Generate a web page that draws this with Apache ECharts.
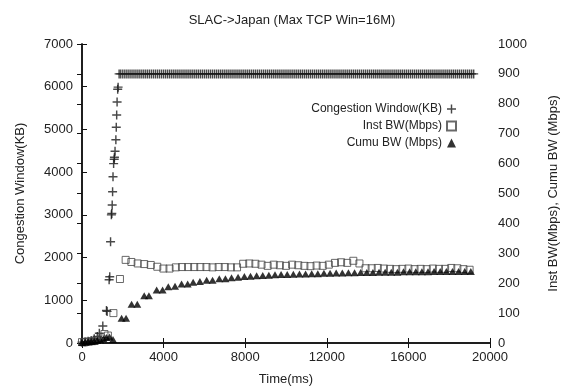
<!DOCTYPE html>
<html>
<head>
<meta charset="utf-8">
<script src="https://cdn.jsdelivr.net/npm/echarts@6/dist/echarts.min.js"></script>
<style>
  html, body { margin: 0; padding: 0; background: #fff; }
  .chart { width: 570px; height: 392px; }
</style>
</head>
<body>
<div class="chart"></div>
<script>
// time(ms), congestion window (KB)
var cwndData = [
    [0, 20], [150, 30], [300, 40], [450, 60], [600, 100], [750, 150], [850, 230], [1020, 400],
    [1200, 760], [1230, 740], [1330, 1480], [1360, 1550], [1400, 2370], [1440, 3000], [1460, 3030],
    [1480, 3230], [1500, 3540], [1520, 3890], [1550, 4200], [1580, 4300], [1590, 4350], [1620, 4490],
    [1660, 4760], [1680, 5050], [1700, 5340], [1720, 5640], [1750, 5940], [1770, 5990], [1820, 6300],
    [1900, 6300], [2000, 6300], [2100, 6300], [2200, 6300], [2300, 6300], [2400, 6300], [2500, 6300], [2600, 6300], [2700, 6300], [2800, 6300],
    [2900, 6300], [3000, 6300], [3100, 6300], [3200, 6300], [3300, 6300], [3400, 6300], [3500, 6300], [3600, 6300], [3700, 6300], [3800, 6300],
    [3900, 6300], [4000, 6300], [4100, 6300], [4200, 6300], [4300, 6300], [4400, 6300], [4500, 6300], [4600, 6300], [4700, 6300], [4800, 6300],
    [4900, 6300], [5000, 6300], [5100, 6300], [5200, 6300], [5300, 6300], [5400, 6300], [5500, 6300], [5600, 6300], [5700, 6300], [5800, 6300],
    [5900, 6300], [6000, 6300], [6100, 6300], [6200, 6300], [6300, 6300], [6400, 6300], [6500, 6300], [6600, 6300], [6700, 6300], [6800, 6300],
    [6900, 6300], [7000, 6300], [7100, 6300], [7200, 6300], [7300, 6300], [7400, 6300], [7500, 6300], [7600, 6300], [7700, 6300], [7800, 6300],
    [7900, 6300], [8000, 6300], [8100, 6300], [8200, 6300], [8300, 6300], [8400, 6300], [8500, 6300], [8600, 6300], [8700, 6300], [8800, 6300],
    [8900, 6300], [9000, 6300], [9100, 6300], [9200, 6300], [9300, 6300], [9400, 6300], [9500, 6300], [9600, 6300], [9700, 6300], [9800, 6300],
    [9900, 6300], [10000, 6300], [10100, 6300], [10200, 6300], [10300, 6300], [10400, 6300], [10500, 6300], [10600, 6300], [10700, 6300], [10800, 6300],
    [10900, 6300], [11000, 6300], [11100, 6300], [11200, 6300], [11300, 6300], [11400, 6300], [11500, 6300], [11600, 6300], [11700, 6300], [11800, 6300],
    [11900, 6300], [12000, 6300], [12100, 6300], [12200, 6300], [12300, 6300], [12400, 6300], [12500, 6300], [12600, 6300], [12700, 6300], [12800, 6300],
    [12900, 6300], [13000, 6300], [13100, 6300], [13200, 6300], [13300, 6300], [13400, 6300], [13500, 6300], [13600, 6300], [13700, 6300], [13800, 6300],
    [13900, 6300], [14000, 6300], [14100, 6300], [14200, 6300], [14300, 6300], [14400, 6300], [14500, 6300], [14600, 6300], [14700, 6300], [14800, 6300],
    [14900, 6300], [15000, 6300], [15100, 6300], [15200, 6300], [15300, 6300], [15400, 6300], [15500, 6300], [15600, 6300], [15700, 6300], [15800, 6300],
    [15900, 6300], [16000, 6300], [16100, 6300], [16200, 6300], [16300, 6300], [16400, 6300], [16500, 6300], [16600, 6300], [16700, 6300], [16800, 6300],
    [16900, 6300], [17000, 6300], [17100, 6300], [17200, 6300], [17300, 6300], [17400, 6300], [17500, 6300], [17600, 6300], [17700, 6300], [17800, 6300],
    [17900, 6300], [18000, 6300], [18100, 6300], [18200, 6300], [18300, 6300], [18400, 6300], [18500, 6300], [18600, 6300], [18700, 6300], [18800, 6300],
    [18900, 6300], [19000, 6300], [19100, 6300], [19200, 6300]
];

// time(ms), instantaneous bandwidth (Mbps)
var instBwData = [
    [0, 3], [100, 2], [200, 4], [350, 5], [500, 6], [650, 8], [800, 10], [950, 15], [1100, 30], [1270, 25],
    [1540, 100], [1860, 214], [2140, 278], [2420, 271], [2730, 266], [3050, 264], [3370, 261], [3690, 255],
    [3990, 249], [4290, 249], [4600, 253], [4900, 254], [5200, 254], [5500, 254], [5800, 254], [6100, 254],
    [6400, 253], [6700, 254], [7000, 254], [7300, 253], [7600, 253], [7900, 265], [8200, 266], [8500, 265],
    [8800, 262], [9100, 258], [9400, 262], [9700, 260], [10000, 258], [10300, 262], [10600, 260], [10900, 258],
    [11200, 257], [11500, 259], [11800, 258], [12100, 262], [12400, 268], [12700, 270], [13000, 268], [13300, 275],
    [13600, 266], [13900, 250], [14200, 250], [14500, 251], [14800, 249], [15100, 248], [15400, 247], [15700, 248],
    [16000, 249], [16300, 247], [16600, 248], [16900, 247], [17200, 249], [17500, 248], [17800, 248], [18100, 251],
    [18400, 250], [18700, 247], [19000, 245]
];

// time(ms), cumulative bandwidth (Mbps)
var cumuBwData = [
    [0, 2], [150, 3], [300, 4], [450, 5], [600, 6], [750, 8], [900, 10], [1050, 14], [1200, 18], [1350, 20],
    [1520, 12], [1940, 83], [2160, 83], [2430, 130], [2710, 130], [3050, 158], [3280, 158], [3660, 177], [3950, 177],
    [4230, 188], [4560, 190], [4880, 197], [5180, 197], [5450, 203], [5780, 206], [6110, 210], [6400, 210],
    [6730, 215], [7030, 215], [7330, 218], [7650, 220], [7960, 222], [8260, 223], [8560, 225], [8860, 226],
    [9160, 227], [9460, 228], [9760, 229], [10060, 229], [10360, 230], [10660, 231], [10960, 231], [11260, 232],
    [11560, 232], [11860, 233], [12160, 233], [12460, 234], [12760, 234], [13060, 235], [13360, 235], [13660, 236],
    [13960, 236], [14260, 236], [14560, 237], [14860, 237], [15160, 237], [15460, 237], [15760, 238], [16060, 238],
    [16360, 238], [16660, 238], [16960, 238], [17260, 239], [17560, 239], [17860, 239], [18160, 239], [18460, 239],
    [18760, 239], [19060, 239]
];

var seriesNames = ["Congestion Window(KB)", "Inst BW(Mbps)", "Cumu BW (Mbps)"];

(function() {
    let myChart = echarts.init(document.querySelector(".chart"));
    let plusPath = "path://M4.2,0h1.6v4.2h4.2v1.6h-4.2v4.2h-1.6v-4.2h-4.2v-1.6h4.2z";
    let font = "Liberation Sans";
    let boxLine = { show: true, lineStyle: { color: "#111", width: 1.5 } };
    let tickIn = { show: true, inside: true, length: 5, lineStyle: { color: "#111", width: 1 } };
    let labelStyle = { color: "#222", fontSize: 13, fontFamily: font };
    let plain = function(v) { return String(v); };
    let option = {
        animation: false,
        textStyle: { fontFamily: font },
        title: {
            text: "SLAC->Japan (Max TCP Win=16M)",
            left: 287,
            textAlign: "center",
            top: 9,
            textStyle: { color: "#222", fontSize: 13, fontWeight: "normal", fontFamily: font }
        },
        legend: {
            data: seriesNames,
            orient: "vertical",
            align: "right",
            right: 108,
            top: 98,
            itemGap: 5,
            itemWidth: 9,
            itemHeight: 9,
            textStyle: { color: "#222", fontSize: 12, fontFamily: font }
        },
        grid: {
            left: 82,
            right: 80,
            top: 44,
            bottom: 49
        },
        xAxis: [{
            type: "value",
            min: 0,
            max: 20000,
            interval: 4000,
            name: "Time(ms)",
            nameLocation: "middle",
            nameGap: 30,
            nameTextStyle: labelStyle,
            axisLine: boxLine,
            axisTick: tickIn,
            axisLabel: { color: "#222", fontSize: 13, fontFamily: font, margin: 8, formatter: plain },
            splitLine: { show: false }
        }, {
            type: "value",
            position: "top",
            min: 0,
            max: 20000,
            interval: 4000,
            axisLine: boxLine,
            axisTick: tickIn,
            axisLabel: { show: false },
            splitLine: { show: false }
        }],
        yAxis: [{
            type: "value",
            min: 0,
            max: 7000,
            interval: 1000,
            name: "Congestion Window(KB)",
            nameLocation: "middle",
            nameRotate: 90,
            nameGap: 55,
            nameTextStyle: labelStyle,
            axisLine: boxLine,
            axisTick: tickIn,
            axisLabel: { color: "#222", fontSize: 13, fontFamily: font, margin: 9, formatter: plain },
            splitLine: { show: false }
        }, {
            type: "value",
            position: "right",
            min: 0,
            max: 1000,
            interval: 100,
            name: "Inst BW(Mbps), Cumu BW (Mbps)",
            nameLocation: "middle",
            nameRotate: 90,
            nameGap: 57,
            nameTextStyle: labelStyle,
            axisLine: boxLine,
            axisTick: tickIn,
            axisLabel: { color: "#222", fontSize: 13, fontFamily: font, margin: 8, formatter: plain },
            splitLine: { show: false }
        }],
        series: [{
            name: seriesNames[0],
            type: "scatter",
            symbol: plusPath,
            symbolSize: 9,
            data: cwndData,
            itemStyle: { color: "#1a1a1a" }
        }, {
            name: seriesNames[1],
            type: "scatter",
            yAxisIndex: 1,
            symbol: "rect",
            symbolSize: 7,
            data: instBwData,
            itemStyle: { color: "rgba(255,255,255,0)", borderColor: "#444", borderWidth: 1 }
        }, {
            name: seriesNames[2],
            type: "scatter",
            yAxisIndex: 1,
            symbol: "triangle",
            symbolSize: [8, 7],
            data: cumuBwData,
            itemStyle: { color: "#000" }
        }]
    };
    myChart.setOption(option);
    window.addEventListener("resize", function() {
        myChart.resize();
    });
})();
</script>
</body>
</html>
